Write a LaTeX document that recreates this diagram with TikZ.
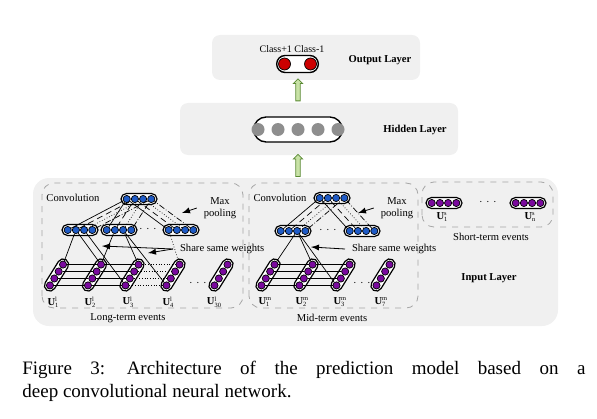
\documentclass[tikz,border=0pt]{standalone}
\usepackage{fontspec}
\setmainfont{Liberation Serif}
\usetikzlibrary{calc,shapes.misc,shapes.arrows}
\definecolor{layerbg}{HTML}{F0F0F0}
\definecolor{unitblue}{HTML}{1F5BC6}
\definecolor{unitpurple}{HTML}{7A0A9E}
\definecolor{unitred}{HTML}{CC0000}
\definecolor{unitgrey}{HTML}{8E8E8E}
\definecolor{arrowfill}{HTML}{C8E2A6}
\definecolor{arrowdraw}{HTML}{5A8A33}
\tikzset{layer/.style={fill=layerbg, rounded corners=4pt},
         eventgroup/.style={draw=gray!70, dashed, rounded corners=6pt, line width=0.4pt},
         evcap/.style={rounded rectangle, draw, line width=0.6pt, fill=white,
                       minimum width=18pt, minimum height=5.5pt, inner sep=0pt},
         neuron/.style={circle, draw, line width=0.35pt, minimum size=3.6pt, inner sep=0pt},
         link/.style={line width=0.35pt},
         pointer/.style={-latex, line width=0.4pt},
         lbl/.style={font=\fontsize{5.3}{6}\selectfont},
         layername/.style={font=\fontsize{5.3}{6}\selectfont\bfseries},
         upflow/.style={single arrow, rotate=90, draw=arrowdraw, fill=arrowfill,
                        line width=0.4pt, minimum height=11pt, inner sep=0.9pt,
                        single arrow head extend=1.2pt}}
% capsule of four units: name, centre, angle, colour
\newcommand{\eventcap}[4]{%
  \node[evcap, rotate=#3] (#1) at (#2) {};
  \foreach \k in {1,...,4}
    \node[neuron, fill=#4] (#1-\k) at ($(#1)+(#3:{(\k-2.5)*8.2})$) {};
}
% U with stacked scripts
\newcommand{\ulabel}[2]{\textbf{U}\makebox[0pt][l]{\raisebox{1.9pt}{\fontsize{3.2}{3.5}\selectfont #1}}%
  \raisebox{-1.1pt}{\fontsize{3.2}{3.5}\selectfont #2}}

\begin{document}
\begin{tikzpicture}[x=0.5pt,y=0.5pt]
  \useasboundingbox (0,0) rectangle (597,418);

  % layers
  \fill[layer] (212,338) rectangle (420,383);
  \fill[layer] (180,263) rectangle (458,315);
  \fill[layer, rounded corners=8pt] (33,92) rectangle (558,240);
  \draw[eventgroup] (42,110) rectangle (243,235);
  \draw[eventgroup] (249,110) rectangle (418,235);
  \draw[eventgroup] (422,191) rectangle (553,236);

  % output layer
  \node[rounded rectangle, draw, line width=0.7pt, fill=white, minimum width=27.5pt,
        minimum height=8.5pt] (out) at (297.5,354) {};
  \node[neuron, fill=unitred, minimum size=6pt] (out-1) at ($(out)+(-13,0)$) {};
  \node[neuron, fill=unitred, minimum size=6pt] (out-2) at ($(out)+(13,0)$) {};
  \node[lbl, font=\fontsize{5}{6}\selectfont] (classes) at (292,369) {Class+1 Class-1};
  \node[layername] (outname) at (380,358) {Output Layer};
  \node[upflow] (flow1) at (298,327) {};

  % hidden layer
  \node[rounded rectangle, draw, line width=0.7pt, fill=white, minimum width=51pt,
        minimum height=12.5pt] (hid) at (298,288.5) {};
  \foreach \k in {1,...,5}
    \node[neuron, draw=none, fill=unitgrey, minimum size=6.5pt] (hid-\k) at ($(hid)+({(\k-3)*20},0)$) {};
  \node[layername] (hidname) at (415,288) {Hidden Layer};
  \node[upflow] (flow2) at (298,251.5) {};

  % long-term events
  \node[lbl] (convL) at (73,220) {Convolution};
  \eventcap{LT}{139,219}{0}{unitblue}
  \eventcap{L2a}{80,188}{0}{unitblue}
  \eventcap{L2b}{119,188}{0}{unitblue}
  \node[lbl] (dotsL2) at (148,189) {$\cdots$};
  \eventcap{L2c}{181,188}{0}{unitblue}
  \foreach \n/\x in {a/56.5,b/94.5,c/132,d/173,e/221}
    {\eventcap{L1\n}{\x,143}{58}{unitpurple}}
  \node[lbl] (dotsL1) at (198,135) {$\cdots$};
  \foreach \n/\x/\s in {a/53/1,b/90/2,c/128/3,d/168/4,e/214/30}
    \node[lbl] (UL\n) at (\x,116) {\ulabel{l}{\s}};
  \node[lbl] (longname) at (128,100) {Long-term events};

  \foreach \c in {L2a,L2b,L2c} {
    \draw[link] (\c-1) -- (LT-1);
    \draw[link, densely dashed] (\c-2) -- (LT-2);
    \draw[link, densely dotted] (\c-3) -- (LT-3);
    \draw[link, densely dash dot] (\c-4) -- (LT-4);
  }
  \draw[link] (L2a-2) -- (L1a-4);
  \draw[link] (L2a-2) -- (L1b-4);
  \draw[link] (L2a-3) -- (L1c-1);
  \draw[link] (L2b-2) -- (L1b-4);
  \draw[link] (L2b-3) -- (L1c-4);
  \draw[link] (L2b-3) -- (L1d-1);
  \draw[link, densely dotted] (L2c-1) -- (L1d-4);
  \foreach \k in {1,...,4} {
    \draw[link] (L1a-\k) -- (L1b-\k);
    \draw[link] (L1b-\k) -- (L1c-\k);
    \draw[link, densely dotted] (L1c-\k) -- (L1d-\k);
  }
  \node[lbl, align=center] (poolL) at (220,210) {Max\\pooling};
  \coordinate (poolLend) at (182,205);
  \draw[pointer] (poolL.west) -- (poolLend);
  \node[lbl, anchor=west] (shareL) at (173,169) {Share same weights};
  \coordinate (shareLa) at (102,172);
  \coordinate (shareLb) at (148,165);
  \draw[pointer] (shareL.west) -- (shareLa);
  \draw[pointer] (shareL.west) -- (shareLb);

  % mid-term events
  \node[lbl] (convM) at (280,220) {Convolution};
  \eventcap{MT}{332,220}{0}{unitblue}
  \eventcap{M2a}{293,187}{0}{unitblue}
  \node[lbl] (dotsM2) at (328,188) {$\cdots$};
  \eventcap{M2b}{362,187}{0}{unitblue}
  \foreach \n/\x in {a/268,b/306,c/343,d/383}
    {\eventcap{M1\n}{\x,143}{58}{unitpurple}}
  \node[lbl] (dotsM1) at (362,135) {$\cdots$};
  \foreach \n/\x/\s in {a/264/1,b/301/2,c/339/3,d/380/7}
    \node[lbl] (UM\n) at (\x,116) {\ulabel{m}{\s}};
  \node[lbl] (midname) at (332,100) {Mid-term events};

  \foreach \c in {M2a,M2b} {
    \draw[link] (\c-1) -- (MT-1);
    \draw[link, densely dashed] (\c-2) -- (MT-2);
    \draw[link, densely dotted] (\c-3) -- (MT-3);
    \draw[link, densely dash dot] (\c-4) -- (MT-4);
  }
  \draw[link] (M2a-3) -- (M1a-4);
  \draw[link] (M2a-3) -- (M1b-4);
  \draw[link] (M2a-3) -- (M1c-1);
  \foreach \k in {1,...,4} {
    \draw[link] (M1a-\k) -- (M1b-\k);
    \draw[link] (M1b-\k) -- (M1c-\k);
  }
  \node[lbl, align=center] (poolM) at (397,210) {Max\\pooling};
  \coordinate (poolMend) at (358,205);
  \draw[pointer] (poolM.west) -- (poolMend);
  \node[lbl, anchor=west] (shareM) at (345,169) {Share same weights};
  \coordinate (shareMa) at (311,171);
  \draw[pointer] (shareM.west) -- (shareMa);

  % short-term events
  \eventcap{S1}{444,215}{0}{unitpurple}
  \node[lbl] (dotsS) at (488,216) {$\cdots$};
  \eventcap{Sn}{528,215}{0}{unitpurple}
  \node[lbl] (US1) at (442,201) {\ulabel{s}{1}};
  \node[lbl] (USn) at (530,201) {\ulabel{s}{n}};
  \node[lbl] (shortname) at (491,181) {Short-term events};
  \node[layername] (inname) at (489,140) {Input Layer};

  % caption
  \node[anchor=base west, inner sep=0pt, font=\fontsize{9.5}{11.5}\selectfont] (cap1) at (22,44)
    {\frenchspacing\makebox[281.5pt][s]{Figure 3:\hspace{1.5pt} Architecture of the prediction model based on a}};
  \node[anchor=base west, inner sep=0pt, font=\fontsize{9.5}{11.5}\selectfont] (cap2) at (22,21)
    {deep convolutional neural network.};
\end{tikzpicture}
\end{document}
